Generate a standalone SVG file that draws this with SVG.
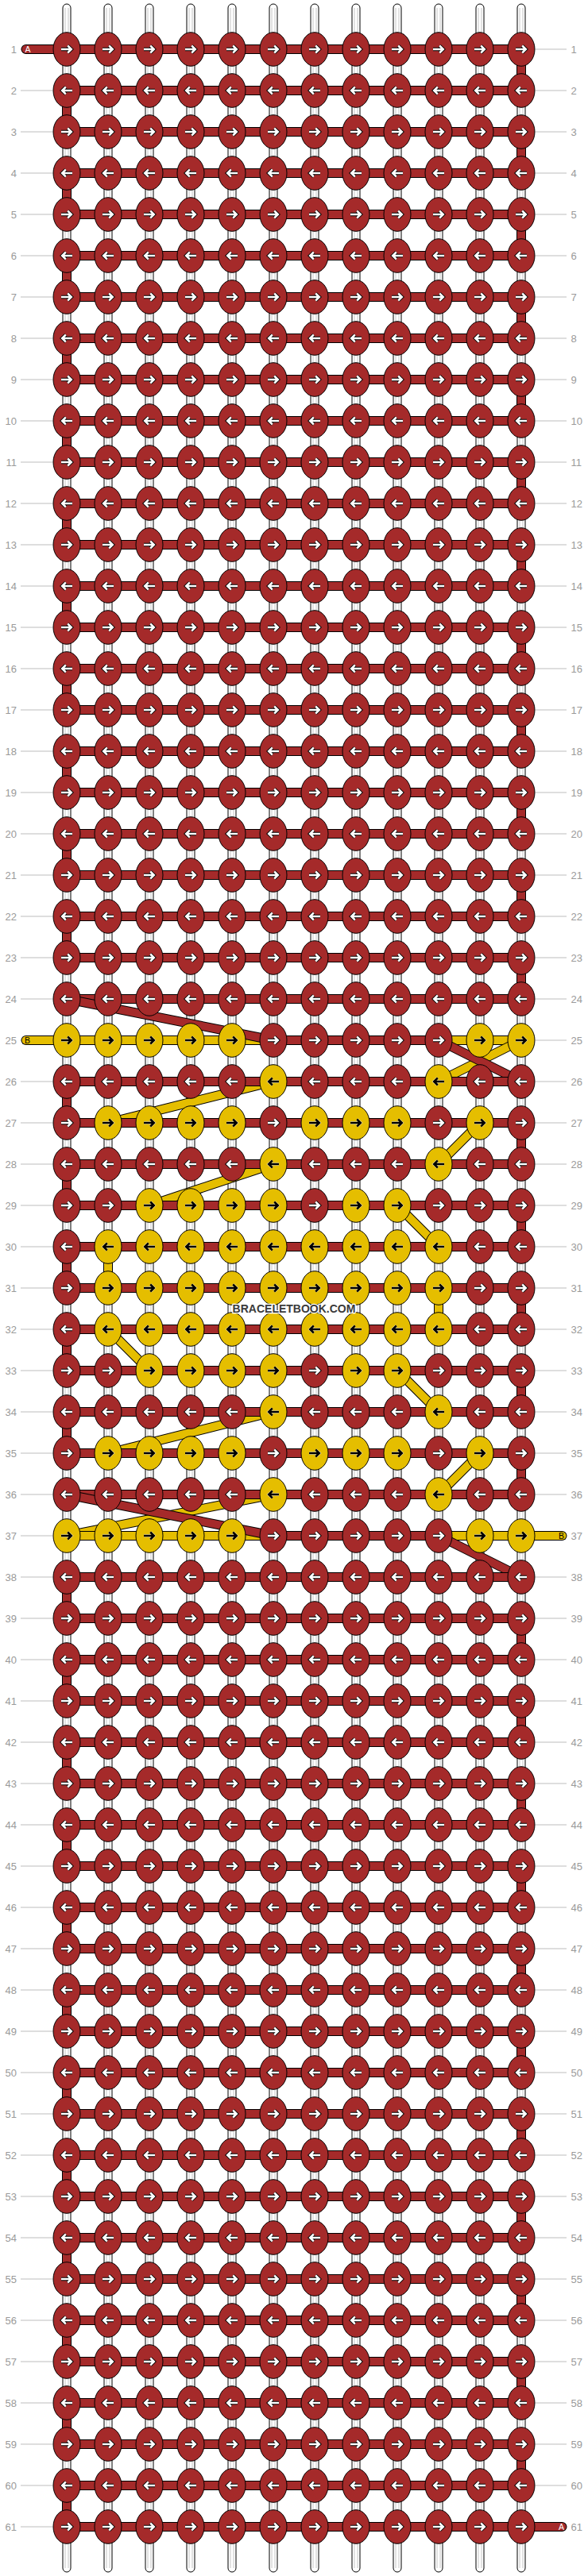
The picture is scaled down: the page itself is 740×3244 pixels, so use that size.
<svg xmlns="http://www.w3.org/2000/svg" xmlns:xlink="http://www.w3.org/1999/xlink" width="740" height="3244" viewBox="0 0 740 3244">
<style>
.st{fill:#fff;stroke:#000;stroke-width:1}
.sg{stroke:#c4c4c4;stroke-width:1}
.gl{fill:none;stroke:#bdbdbd;stroke-width:1}
.o{fill:none;stroke:#000;stroke-width:12;stroke-linecap:round;stroke-linejoin:round}
.a{fill:none;stroke:#A52A2A;stroke-width:10;stroke-linecap:round;stroke-linejoin:round}
.b{fill:none;stroke:#E5BE00;stroke-width:10;stroke-linecap:round;stroke-linejoin:round}
.ln{font-family:"Liberation Sans",Arial,sans-serif;font-size:13px;fill:#9a9a9a;text-anchor:end}
.rn{font-family:"Liberation Sans",Arial,sans-serif;font-size:13px;fill:#9a9a9a;text-anchor:start}
.tl{font-family:"Liberation Sans",Arial,sans-serif;font-size:10.5px;text-anchor:middle}
.wm{font-family:"Liberation Sans",Arial,sans-serif;font-size:14px;font-weight:bold;fill:#3a3a3a;stroke:#fff;stroke-width:2.5;stroke-linejoin:round;paint-order:stroke;text-anchor:middle}
</style>
<defs>
<path id="ar" d="M-7,0H5.5M1.2,-4.5L5.8,0L1.2,4.5" fill="none" stroke-linejoin="miter" stroke-miterlimit="10"/>
<g id="RR"><ellipse rx="17" ry="21.3" fill="#A52A2A" stroke="#000" stroke-width="1"/><use xlink:href="#ar" href="#ar" stroke="#000" stroke-width="4.4"/><use xlink:href="#ar" href="#ar" stroke="#fff" stroke-width="2.5"/></g>
<g id="RL"><ellipse rx="17" ry="21.3" fill="#A52A2A" stroke="#000" stroke-width="1"/><g transform="scale(-1,1)"><use xlink:href="#ar" href="#ar" stroke="#000" stroke-width="4.4"/><use xlink:href="#ar" href="#ar" stroke="#fff" stroke-width="2.5"/></g></g>
<g id="YR"><ellipse rx="17" ry="21.3" fill="#E5BE00" stroke="#000" stroke-width="1"/><use xlink:href="#ar" href="#ar" stroke="#fff" stroke-width="3.8" stroke-opacity="0.6"/><use xlink:href="#ar" href="#ar" stroke="#000" stroke-width="2.5"/></g>
<g id="YL"><ellipse rx="17" ry="21.3" fill="#E5BE00" stroke="#000" stroke-width="1"/><g transform="scale(-1,1)"><use xlink:href="#ar" href="#ar" stroke="#fff" stroke-width="3.8" stroke-opacity="0.6"/><use xlink:href="#ar" href="#ar" stroke="#000" stroke-width="2.5"/></g></g>
</defs>
<rect width="740" height="3244" fill="#fff"/>
<g id="row-labels">
<path class="gl" d="M26,62H66M674,62H713M26,114H66M674,114H713M26,166H66M674,166H713M26,218H66M674,218H713M26,270H66M674,270H713M26,322H66M674,322H713M26,374H66M674,374H713M26,426H66M674,426H713M26,478H66M674,478H713M26,530H66M674,530H713M26,582H66M674,582H713M26,634H66M674,634H713M26,686H66M674,686H713M26,738H66M674,738H713M26,790H66M674,790H713M26,842H66M674,842H713M26,894H66M674,894H713M26,946H66M674,946H713M26,998H66M674,998H713M26,1050H66M674,1050H713M26,1102H66M674,1102H713M26,1154H66M674,1154H713M26,1206H66M674,1206H713M26,1258H66M674,1258H713M26,1310H66M674,1310H713M26,1362H66M674,1362H713M26,1414H66M674,1414H713M26,1466H66M674,1466H713M26,1518H66M674,1518H713M26,1570H66M674,1570H713M26,1622H66M674,1622H713M26,1674H66M674,1674H713M26,1726H66M674,1726H713M26,1778H66M674,1778H713M26,1830H66M674,1830H713M26,1882H66M674,1882H713M26,1934H66M674,1934H713M26,1986H66M674,1986H713M26,2038H66M674,2038H713M26,2090H66M674,2090H713M26,2142H66M674,2142H713M26,2194H66M674,2194H713M26,2246H66M674,2246H713M26,2298H66M674,2298H713M26,2350H66M674,2350H713M26,2402H66M674,2402H713M26,2454H66M674,2454H713M26,2506H66M674,2506H713M26,2558H66M674,2558H713M26,2610H66M674,2610H713M26,2662H66M674,2662H713M26,2714H66M674,2714H713M26,2766H66M674,2766H713M26,2818H66M674,2818H713M26,2870H66M674,2870H713M26,2922H66M674,2922H713M26,2974H66M674,2974H713M26,3026H66M674,3026H713M26,3078H66M674,3078H713M26,3130H66M674,3130H713M26,3182H66M674,3182H713"/>
<text class="ln" x="21" y="66.5">1</text><text class="rn" x="718.5" y="66.5">1</text>
<text class="ln" x="21" y="118.5">2</text><text class="rn" x="718.5" y="118.5">2</text>
<text class="ln" x="21" y="170.5">3</text><text class="rn" x="718.5" y="170.5">3</text>
<text class="ln" x="21" y="222.5">4</text><text class="rn" x="718.5" y="222.5">4</text>
<text class="ln" x="21" y="274.5">5</text><text class="rn" x="718.5" y="274.5">5</text>
<text class="ln" x="21" y="326.5">6</text><text class="rn" x="718.5" y="326.5">6</text>
<text class="ln" x="21" y="378.5">7</text><text class="rn" x="718.5" y="378.5">7</text>
<text class="ln" x="21" y="430.5">8</text><text class="rn" x="718.5" y="430.5">8</text>
<text class="ln" x="21" y="482.5">9</text><text class="rn" x="718.5" y="482.5">9</text>
<text class="ln" x="21" y="534.5">10</text><text class="rn" x="718.5" y="534.5">10</text>
<text class="ln" x="21" y="586.5">11</text><text class="rn" x="718.5" y="586.5">11</text>
<text class="ln" x="21" y="638.5">12</text><text class="rn" x="718.5" y="638.5">12</text>
<text class="ln" x="21" y="690.5">13</text><text class="rn" x="718.5" y="690.5">13</text>
<text class="ln" x="21" y="742.5">14</text><text class="rn" x="718.5" y="742.5">14</text>
<text class="ln" x="21" y="794.5">15</text><text class="rn" x="718.5" y="794.5">15</text>
<text class="ln" x="21" y="846.5">16</text><text class="rn" x="718.5" y="846.5">16</text>
<text class="ln" x="21" y="898.5">17</text><text class="rn" x="718.5" y="898.5">17</text>
<text class="ln" x="21" y="950.5">18</text><text class="rn" x="718.5" y="950.5">18</text>
<text class="ln" x="21" y="1002.5">19</text><text class="rn" x="718.5" y="1002.5">19</text>
<text class="ln" x="21" y="1054.5">20</text><text class="rn" x="718.5" y="1054.5">20</text>
<text class="ln" x="21" y="1106.5">21</text><text class="rn" x="718.5" y="1106.5">21</text>
<text class="ln" x="21" y="1158.5">22</text><text class="rn" x="718.5" y="1158.5">22</text>
<text class="ln" x="21" y="1210.5">23</text><text class="rn" x="718.5" y="1210.5">23</text>
<text class="ln" x="21" y="1262.5">24</text><text class="rn" x="718.5" y="1262.5">24</text>
<text class="ln" x="21" y="1314.5">25</text><text class="rn" x="718.5" y="1314.5">25</text>
<text class="ln" x="21" y="1366.5">26</text><text class="rn" x="718.5" y="1366.5">26</text>
<text class="ln" x="21" y="1418.5">27</text><text class="rn" x="718.5" y="1418.5">27</text>
<text class="ln" x="21" y="1470.5">28</text><text class="rn" x="718.5" y="1470.5">28</text>
<text class="ln" x="21" y="1522.5">29</text><text class="rn" x="718.5" y="1522.5">29</text>
<text class="ln" x="21" y="1574.5">30</text><text class="rn" x="718.5" y="1574.5">30</text>
<text class="ln" x="21" y="1626.5">31</text><text class="rn" x="718.5" y="1626.5">31</text>
<text class="ln" x="21" y="1678.5">32</text><text class="rn" x="718.5" y="1678.5">32</text>
<text class="ln" x="21" y="1730.5">33</text><text class="rn" x="718.5" y="1730.5">33</text>
<text class="ln" x="21" y="1782.5">34</text><text class="rn" x="718.5" y="1782.5">34</text>
<text class="ln" x="21" y="1834.5">35</text><text class="rn" x="718.5" y="1834.5">35</text>
<text class="ln" x="21" y="1886.5">36</text><text class="rn" x="718.5" y="1886.5">36</text>
<text class="ln" x="21" y="1938.5">37</text><text class="rn" x="718.5" y="1938.5">37</text>
<text class="ln" x="21" y="1990.5">38</text><text class="rn" x="718.5" y="1990.5">38</text>
<text class="ln" x="21" y="2042.5">39</text><text class="rn" x="718.5" y="2042.5">39</text>
<text class="ln" x="21" y="2094.5">40</text><text class="rn" x="718.5" y="2094.5">40</text>
<text class="ln" x="21" y="2146.5">41</text><text class="rn" x="718.5" y="2146.5">41</text>
<text class="ln" x="21" y="2198.5">42</text><text class="rn" x="718.5" y="2198.5">42</text>
<text class="ln" x="21" y="2250.5">43</text><text class="rn" x="718.5" y="2250.5">43</text>
<text class="ln" x="21" y="2302.5">44</text><text class="rn" x="718.5" y="2302.5">44</text>
<text class="ln" x="21" y="2354.5">45</text><text class="rn" x="718.5" y="2354.5">45</text>
<text class="ln" x="21" y="2406.5">46</text><text class="rn" x="718.5" y="2406.5">46</text>
<text class="ln" x="21" y="2458.5">47</text><text class="rn" x="718.5" y="2458.5">47</text>
<text class="ln" x="21" y="2510.5">48</text><text class="rn" x="718.5" y="2510.5">48</text>
<text class="ln" x="21" y="2562.5">49</text><text class="rn" x="718.5" y="2562.5">49</text>
<text class="ln" x="21" y="2614.5">50</text><text class="rn" x="718.5" y="2614.5">50</text>
<text class="ln" x="21" y="2666.5">51</text><text class="rn" x="718.5" y="2666.5">51</text>
<text class="ln" x="21" y="2718.5">52</text><text class="rn" x="718.5" y="2718.5">52</text>
<text class="ln" x="21" y="2770.5">53</text><text class="rn" x="718.5" y="2770.5">53</text>
<text class="ln" x="21" y="2822.5">54</text><text class="rn" x="718.5" y="2822.5">54</text>
<text class="ln" x="21" y="2874.5">55</text><text class="rn" x="718.5" y="2874.5">55</text>
<text class="ln" x="21" y="2926.5">56</text><text class="rn" x="718.5" y="2926.5">56</text>
<text class="ln" x="21" y="2978.5">57</text><text class="rn" x="718.5" y="2978.5">57</text>
<text class="ln" x="21" y="3030.5">58</text><text class="rn" x="718.5" y="3030.5">58</text>
<text class="ln" x="21" y="3082.5">59</text><text class="rn" x="718.5" y="3082.5">59</text>
<text class="ln" x="21" y="3134.5">60</text><text class="rn" x="718.5" y="3134.5">60</text>
<text class="ln" x="21" y="3186.5">61</text><text class="rn" x="718.5" y="3186.5">61</text>
</g>
<g id="strands">
<rect class="st" x="79" y="5" width="10" height="3234" rx="5"/>
<rect class="st" x="131" y="5" width="10" height="3234" rx="5"/>
<rect class="st" x="183" y="5" width="10" height="3234" rx="5"/>
<rect class="st" x="235" y="5" width="10" height="3234" rx="5"/>
<rect class="st" x="287" y="5" width="10" height="3234" rx="5"/>
<rect class="st" x="339" y="5" width="10" height="3234" rx="5"/>
<rect class="st" x="391" y="5" width="10" height="3234" rx="5"/>
<rect class="st" x="443" y="5" width="10" height="3234" rx="5"/>
<rect class="st" x="495" y="5" width="10" height="3234" rx="5"/>
<rect class="st" x="547" y="5" width="10" height="3234" rx="5"/>
<rect class="st" x="599" y="5" width="10" height="3234" rx="5"/>
<rect class="st" x="651" y="5" width="10" height="3234" rx="5"/>
<path class="sg" d="M82,10V3234M86,10V3234M134,10V3234M138,10V3234M186,10V3234M190,10V3234M238,10V3234M242,10V3234M290,10V3234M294,10V3234M342,10V3234M346,10V3234M394,10V3234M398,10V3234M446,10V3234M450,10V3234M498,10V3234M502,10V3234M550,10V3234M554,10V3234M602,10V3234M606,10V3234M654,10V3234M658,10V3234"/>
</g>
<g id="connectors">
<g id="thread-B">
<path class="o" d="M32.5,1310H656"/><path class="b" d="M32.5,1310H656"/>
<path class="o" d="M656,1310L552,1362"/><path class="b" d="M656,1310L552,1362"/>
<path class="o" d="M552,1362H344"/><path class="b" d="M552,1362H344"/>
<path class="o" d="M344,1362L136,1414"/><path class="b" d="M344,1362L136,1414"/>
<path class="o" d="M136,1414H604"/><path class="b" d="M136,1414H604"/>
<path class="o" d="M604,1414L552,1466"/><path class="b" d="M604,1414L552,1466"/>
<path class="o" d="M552,1466H344"/><path class="b" d="M552,1466H344"/>
<path class="o" d="M344,1466L188,1518"/><path class="b" d="M344,1466L188,1518"/>
<path class="o" d="M188,1518H500"/><path class="b" d="M188,1518H500"/>
<path class="o" d="M500,1518L552,1570"/><path class="b" d="M500,1518L552,1570"/>
<path class="o" d="M552,1570H136V1622H552V1674H136"/><path class="b" d="M552,1570H136V1622H552V1674H136"/>
<path class="o" d="M136,1674L188,1726"/><path class="b" d="M136,1674L188,1726"/>
<path class="o" d="M188,1726H500"/><path class="b" d="M188,1726H500"/>
<path class="o" d="M500,1726L552,1778"/><path class="b" d="M500,1726L552,1778"/>
<path class="o" d="M552,1778H344"/><path class="b" d="M552,1778H344"/>
<path class="o" d="M344,1778L136,1830"/><path class="b" d="M344,1778L136,1830"/>
<path class="o" d="M136,1830H604"/><path class="b" d="M136,1830H604"/>
<path class="o" d="M604,1830L552,1882"/><path class="b" d="M604,1830L552,1882"/>
<path class="o" d="M552,1882H344"/><path class="b" d="M552,1882H344"/>
<path class="o" d="M344,1882L84,1934"/><path class="b" d="M344,1882L84,1934"/>
<path class="o" d="M84,1934H707.5"/><path class="b" d="M84,1934H707.5"/>
</g>
<g id="thread-A">
<path class="o" d="M32.5,62H656V114H84V166H656V218H84V270H656V322H84V374H656V426H84V478H656V530H84V582H656V634H84V686H656V738H84V790H656V842H84V894H656V946H84V998H656V1050H84V1102H656V1154H84V1206H656V1258H84"/>
<path class="a" d="M32.5,62H656V114H84V166H656V218H84V270H656V322H84V374H656V426H84V478H656V530H84V582H656V634H84V686H656V738H84V790H656V842H84V894H656V946H84V998H656V1050H84V1102H656V1154H84V1206H656V1258H84"/>
<path class="o" d="M84,1258L344,1310"/><path class="a" d="M84,1258L344,1310"/>
<path class="o" d="M344,1310H552"/><path class="a" d="M344,1310H552"/>
<path class="o" d="M552,1310L656,1362"/><path class="a" d="M552,1310L656,1362"/>
<path class="o" d="M656,1362H84V1414H656V1466H84V1518H656V1570H84V1622H656V1674H84V1726H656V1778H84V1830H656V1882H84"/>
<path class="a" d="M656,1362H84V1414H656V1466H84V1518H656V1570H84V1622H656V1674H84V1726H656V1778H84V1830H656V1882H84"/>
<path class="o" d="M84,1882L344,1934"/><path class="a" d="M84,1882L344,1934"/>
<path class="o" d="M344,1934H552"/><path class="a" d="M344,1934H552"/>
<path class="o" d="M552,1934L656,1986"/><path class="a" d="M552,1934L656,1986"/>
<path class="o" d="M656,1986H84V2038H656V2090H84V2142H656V2194H84V2246H656V2298H84V2350H656V2402H84V2454H656V2506H84V2558H656V2610H84V2662H656V2714H84V2766H656V2818H84V2870H656V2922H84V2974H656V3026H84V3078H656V3130H84V3182H707.5"/>
<path class="a" d="M656,1986H84V2038H656V2090H84V2142H656V2194H84V2246H656V2298H84V2350H656V2402H84V2454H656V2506H84V2558H656V2610H84V2662H656V2714H84V2766H656V2818H84V2870H656V2922H84V2974H656V3026H84V3078H656V3130H84V3182H707.5"/>
</g>
<text class="tl" x="35" y="66" fill="#fff">A</text>
<text class="tl" x="34.5" y="1314" fill="#000">B</text>
<text class="tl" x="706.5" y="1938" fill="#000">B</text>
<text class="tl" x="706.5" y="3186" fill="#fff">A</text>
</g>
<g id="nodes">
<g id="row1" transform="translate(0,62)"><g id="n1-1"><use href="#RR" x="84"/></g><g id="n1-2"><use href="#RR" x="136"/></g><g id="n1-3"><use href="#RR" x="188"/></g><g id="n1-4"><use href="#RR" x="240"/></g><g id="n1-5"><use href="#RR" x="292"/></g><g id="n1-6"><use href="#RR" x="344"/></g><g id="n1-7"><use href="#RR" x="396"/></g><g id="n1-8"><use href="#RR" x="448"/></g><g id="n1-9"><use href="#RR" x="500"/></g><g id="n1-10"><use href="#RR" x="552"/></g><g id="n1-11"><use href="#RR" x="604"/></g><g id="n1-12"><use href="#RR" x="656"/></g></g>
<g id="row2" transform="translate(0,114)"><g id="n2-1"><use href="#RL" x="84"/></g><g id="n2-2"><use href="#RL" x="136"/></g><g id="n2-3"><use href="#RL" x="188"/></g><g id="n2-4"><use href="#RL" x="240"/></g><g id="n2-5"><use href="#RL" x="292"/></g><g id="n2-6"><use href="#RL" x="344"/></g><g id="n2-7"><use href="#RL" x="396"/></g><g id="n2-8"><use href="#RL" x="448"/></g><g id="n2-9"><use href="#RL" x="500"/></g><g id="n2-10"><use href="#RL" x="552"/></g><g id="n2-11"><use href="#RL" x="604"/></g><g id="n2-12"><use href="#RL" x="656"/></g></g>
<g id="row3" transform="translate(0,166)"><g id="n3-1"><use href="#RR" x="84"/></g><g id="n3-2"><use href="#RR" x="136"/></g><g id="n3-3"><use href="#RR" x="188"/></g><g id="n3-4"><use href="#RR" x="240"/></g><g id="n3-5"><use href="#RR" x="292"/></g><g id="n3-6"><use href="#RR" x="344"/></g><g id="n3-7"><use href="#RR" x="396"/></g><g id="n3-8"><use href="#RR" x="448"/></g><g id="n3-9"><use href="#RR" x="500"/></g><g id="n3-10"><use href="#RR" x="552"/></g><g id="n3-11"><use href="#RR" x="604"/></g><g id="n3-12"><use href="#RR" x="656"/></g></g>
<g id="row4" transform="translate(0,218)"><g id="n4-1"><use href="#RL" x="84"/></g><g id="n4-2"><use href="#RL" x="136"/></g><g id="n4-3"><use href="#RL" x="188"/></g><g id="n4-4"><use href="#RL" x="240"/></g><g id="n4-5"><use href="#RL" x="292"/></g><g id="n4-6"><use href="#RL" x="344"/></g><g id="n4-7"><use href="#RL" x="396"/></g><g id="n4-8"><use href="#RL" x="448"/></g><g id="n4-9"><use href="#RL" x="500"/></g><g id="n4-10"><use href="#RL" x="552"/></g><g id="n4-11"><use href="#RL" x="604"/></g><g id="n4-12"><use href="#RL" x="656"/></g></g>
<g id="row5" transform="translate(0,270)"><g id="n5-1"><use href="#RR" x="84"/></g><g id="n5-2"><use href="#RR" x="136"/></g><g id="n5-3"><use href="#RR" x="188"/></g><g id="n5-4"><use href="#RR" x="240"/></g><g id="n5-5"><use href="#RR" x="292"/></g><g id="n5-6"><use href="#RR" x="344"/></g><g id="n5-7"><use href="#RR" x="396"/></g><g id="n5-8"><use href="#RR" x="448"/></g><g id="n5-9"><use href="#RR" x="500"/></g><g id="n5-10"><use href="#RR" x="552"/></g><g id="n5-11"><use href="#RR" x="604"/></g><g id="n5-12"><use href="#RR" x="656"/></g></g>
<g id="row6" transform="translate(0,322)"><g id="n6-1"><use href="#RL" x="84"/></g><g id="n6-2"><use href="#RL" x="136"/></g><g id="n6-3"><use href="#RL" x="188"/></g><g id="n6-4"><use href="#RL" x="240"/></g><g id="n6-5"><use href="#RL" x="292"/></g><g id="n6-6"><use href="#RL" x="344"/></g><g id="n6-7"><use href="#RL" x="396"/></g><g id="n6-8"><use href="#RL" x="448"/></g><g id="n6-9"><use href="#RL" x="500"/></g><g id="n6-10"><use href="#RL" x="552"/></g><g id="n6-11"><use href="#RL" x="604"/></g><g id="n6-12"><use href="#RL" x="656"/></g></g>
<g id="row7" transform="translate(0,374)"><g id="n7-1"><use href="#RR" x="84"/></g><g id="n7-2"><use href="#RR" x="136"/></g><g id="n7-3"><use href="#RR" x="188"/></g><g id="n7-4"><use href="#RR" x="240"/></g><g id="n7-5"><use href="#RR" x="292"/></g><g id="n7-6"><use href="#RR" x="344"/></g><g id="n7-7"><use href="#RR" x="396"/></g><g id="n7-8"><use href="#RR" x="448"/></g><g id="n7-9"><use href="#RR" x="500"/></g><g id="n7-10"><use href="#RR" x="552"/></g><g id="n7-11"><use href="#RR" x="604"/></g><g id="n7-12"><use href="#RR" x="656"/></g></g>
<g id="row8" transform="translate(0,426)"><g id="n8-1"><use href="#RL" x="84"/></g><g id="n8-2"><use href="#RL" x="136"/></g><g id="n8-3"><use href="#RL" x="188"/></g><g id="n8-4"><use href="#RL" x="240"/></g><g id="n8-5"><use href="#RL" x="292"/></g><g id="n8-6"><use href="#RL" x="344"/></g><g id="n8-7"><use href="#RL" x="396"/></g><g id="n8-8"><use href="#RL" x="448"/></g><g id="n8-9"><use href="#RL" x="500"/></g><g id="n8-10"><use href="#RL" x="552"/></g><g id="n8-11"><use href="#RL" x="604"/></g><g id="n8-12"><use href="#RL" x="656"/></g></g>
<g id="row9" transform="translate(0,478)"><g id="n9-1"><use href="#RR" x="84"/></g><g id="n9-2"><use href="#RR" x="136"/></g><g id="n9-3"><use href="#RR" x="188"/></g><g id="n9-4"><use href="#RR" x="240"/></g><g id="n9-5"><use href="#RR" x="292"/></g><g id="n9-6"><use href="#RR" x="344"/></g><g id="n9-7"><use href="#RR" x="396"/></g><g id="n9-8"><use href="#RR" x="448"/></g><g id="n9-9"><use href="#RR" x="500"/></g><g id="n9-10"><use href="#RR" x="552"/></g><g id="n9-11"><use href="#RR" x="604"/></g><g id="n9-12"><use href="#RR" x="656"/></g></g>
<g id="row10" transform="translate(0,530)"><g id="n10-1"><use href="#RL" x="84"/></g><g id="n10-2"><use href="#RL" x="136"/></g><g id="n10-3"><use href="#RL" x="188"/></g><g id="n10-4"><use href="#RL" x="240"/></g><g id="n10-5"><use href="#RL" x="292"/></g><g id="n10-6"><use href="#RL" x="344"/></g><g id="n10-7"><use href="#RL" x="396"/></g><g id="n10-8"><use href="#RL" x="448"/></g><g id="n10-9"><use href="#RL" x="500"/></g><g id="n10-10"><use href="#RL" x="552"/></g><g id="n10-11"><use href="#RL" x="604"/></g><g id="n10-12"><use href="#RL" x="656"/></g></g>
<g id="row11" transform="translate(0,582)"><g id="n11-1"><use href="#RR" x="84"/></g><g id="n11-2"><use href="#RR" x="136"/></g><g id="n11-3"><use href="#RR" x="188"/></g><g id="n11-4"><use href="#RR" x="240"/></g><g id="n11-5"><use href="#RR" x="292"/></g><g id="n11-6"><use href="#RR" x="344"/></g><g id="n11-7"><use href="#RR" x="396"/></g><g id="n11-8"><use href="#RR" x="448"/></g><g id="n11-9"><use href="#RR" x="500"/></g><g id="n11-10"><use href="#RR" x="552"/></g><g id="n11-11"><use href="#RR" x="604"/></g><g id="n11-12"><use href="#RR" x="656"/></g></g>
<g id="row12" transform="translate(0,634)"><g id="n12-1"><use href="#RL" x="84"/></g><g id="n12-2"><use href="#RL" x="136"/></g><g id="n12-3"><use href="#RL" x="188"/></g><g id="n12-4"><use href="#RL" x="240"/></g><g id="n12-5"><use href="#RL" x="292"/></g><g id="n12-6"><use href="#RL" x="344"/></g><g id="n12-7"><use href="#RL" x="396"/></g><g id="n12-8"><use href="#RL" x="448"/></g><g id="n12-9"><use href="#RL" x="500"/></g><g id="n12-10"><use href="#RL" x="552"/></g><g id="n12-11"><use href="#RL" x="604"/></g><g id="n12-12"><use href="#RL" x="656"/></g></g>
<g id="row13" transform="translate(0,686)"><g id="n13-1"><use href="#RR" x="84"/></g><g id="n13-2"><use href="#RR" x="136"/></g><g id="n13-3"><use href="#RR" x="188"/></g><g id="n13-4"><use href="#RR" x="240"/></g><g id="n13-5"><use href="#RR" x="292"/></g><g id="n13-6"><use href="#RR" x="344"/></g><g id="n13-7"><use href="#RR" x="396"/></g><g id="n13-8"><use href="#RR" x="448"/></g><g id="n13-9"><use href="#RR" x="500"/></g><g id="n13-10"><use href="#RR" x="552"/></g><g id="n13-11"><use href="#RR" x="604"/></g><g id="n13-12"><use href="#RR" x="656"/></g></g>
<g id="row14" transform="translate(0,738)"><g id="n14-1"><use href="#RL" x="84"/></g><g id="n14-2"><use href="#RL" x="136"/></g><g id="n14-3"><use href="#RL" x="188"/></g><g id="n14-4"><use href="#RL" x="240"/></g><g id="n14-5"><use href="#RL" x="292"/></g><g id="n14-6"><use href="#RL" x="344"/></g><g id="n14-7"><use href="#RL" x="396"/></g><g id="n14-8"><use href="#RL" x="448"/></g><g id="n14-9"><use href="#RL" x="500"/></g><g id="n14-10"><use href="#RL" x="552"/></g><g id="n14-11"><use href="#RL" x="604"/></g><g id="n14-12"><use href="#RL" x="656"/></g></g>
<g id="row15" transform="translate(0,790)"><g id="n15-1"><use href="#RR" x="84"/></g><g id="n15-2"><use href="#RR" x="136"/></g><g id="n15-3"><use href="#RR" x="188"/></g><g id="n15-4"><use href="#RR" x="240"/></g><g id="n15-5"><use href="#RR" x="292"/></g><g id="n15-6"><use href="#RR" x="344"/></g><g id="n15-7"><use href="#RR" x="396"/></g><g id="n15-8"><use href="#RR" x="448"/></g><g id="n15-9"><use href="#RR" x="500"/></g><g id="n15-10"><use href="#RR" x="552"/></g><g id="n15-11"><use href="#RR" x="604"/></g><g id="n15-12"><use href="#RR" x="656"/></g></g>
<g id="row16" transform="translate(0,842)"><g id="n16-1"><use href="#RL" x="84"/></g><g id="n16-2"><use href="#RL" x="136"/></g><g id="n16-3"><use href="#RL" x="188"/></g><g id="n16-4"><use href="#RL" x="240"/></g><g id="n16-5"><use href="#RL" x="292"/></g><g id="n16-6"><use href="#RL" x="344"/></g><g id="n16-7"><use href="#RL" x="396"/></g><g id="n16-8"><use href="#RL" x="448"/></g><g id="n16-9"><use href="#RL" x="500"/></g><g id="n16-10"><use href="#RL" x="552"/></g><g id="n16-11"><use href="#RL" x="604"/></g><g id="n16-12"><use href="#RL" x="656"/></g></g>
<g id="row17" transform="translate(0,894)"><g id="n17-1"><use href="#RR" x="84"/></g><g id="n17-2"><use href="#RR" x="136"/></g><g id="n17-3"><use href="#RR" x="188"/></g><g id="n17-4"><use href="#RR" x="240"/></g><g id="n17-5"><use href="#RR" x="292"/></g><g id="n17-6"><use href="#RR" x="344"/></g><g id="n17-7"><use href="#RR" x="396"/></g><g id="n17-8"><use href="#RR" x="448"/></g><g id="n17-9"><use href="#RR" x="500"/></g><g id="n17-10"><use href="#RR" x="552"/></g><g id="n17-11"><use href="#RR" x="604"/></g><g id="n17-12"><use href="#RR" x="656"/></g></g>
<g id="row18" transform="translate(0,946)"><g id="n18-1"><use href="#RL" x="84"/></g><g id="n18-2"><use href="#RL" x="136"/></g><g id="n18-3"><use href="#RL" x="188"/></g><g id="n18-4"><use href="#RL" x="240"/></g><g id="n18-5"><use href="#RL" x="292"/></g><g id="n18-6"><use href="#RL" x="344"/></g><g id="n18-7"><use href="#RL" x="396"/></g><g id="n18-8"><use href="#RL" x="448"/></g><g id="n18-9"><use href="#RL" x="500"/></g><g id="n18-10"><use href="#RL" x="552"/></g><g id="n18-11"><use href="#RL" x="604"/></g><g id="n18-12"><use href="#RL" x="656"/></g></g>
<g id="row19" transform="translate(0,998)"><g id="n19-1"><use href="#RR" x="84"/></g><g id="n19-2"><use href="#RR" x="136"/></g><g id="n19-3"><use href="#RR" x="188"/></g><g id="n19-4"><use href="#RR" x="240"/></g><g id="n19-5"><use href="#RR" x="292"/></g><g id="n19-6"><use href="#RR" x="344"/></g><g id="n19-7"><use href="#RR" x="396"/></g><g id="n19-8"><use href="#RR" x="448"/></g><g id="n19-9"><use href="#RR" x="500"/></g><g id="n19-10"><use href="#RR" x="552"/></g><g id="n19-11"><use href="#RR" x="604"/></g><g id="n19-12"><use href="#RR" x="656"/></g></g>
<g id="row20" transform="translate(0,1050)"><g id="n20-1"><use href="#RL" x="84"/></g><g id="n20-2"><use href="#RL" x="136"/></g><g id="n20-3"><use href="#RL" x="188"/></g><g id="n20-4"><use href="#RL" x="240"/></g><g id="n20-5"><use href="#RL" x="292"/></g><g id="n20-6"><use href="#RL" x="344"/></g><g id="n20-7"><use href="#RL" x="396"/></g><g id="n20-8"><use href="#RL" x="448"/></g><g id="n20-9"><use href="#RL" x="500"/></g><g id="n20-10"><use href="#RL" x="552"/></g><g id="n20-11"><use href="#RL" x="604"/></g><g id="n20-12"><use href="#RL" x="656"/></g></g>
<g id="row21" transform="translate(0,1102)"><g id="n21-1"><use href="#RR" x="84"/></g><g id="n21-2"><use href="#RR" x="136"/></g><g id="n21-3"><use href="#RR" x="188"/></g><g id="n21-4"><use href="#RR" x="240"/></g><g id="n21-5"><use href="#RR" x="292"/></g><g id="n21-6"><use href="#RR" x="344"/></g><g id="n21-7"><use href="#RR" x="396"/></g><g id="n21-8"><use href="#RR" x="448"/></g><g id="n21-9"><use href="#RR" x="500"/></g><g id="n21-10"><use href="#RR" x="552"/></g><g id="n21-11"><use href="#RR" x="604"/></g><g id="n21-12"><use href="#RR" x="656"/></g></g>
<g id="row22" transform="translate(0,1154)"><g id="n22-1"><use href="#RL" x="84"/></g><g id="n22-2"><use href="#RL" x="136"/></g><g id="n22-3"><use href="#RL" x="188"/></g><g id="n22-4"><use href="#RL" x="240"/></g><g id="n22-5"><use href="#RL" x="292"/></g><g id="n22-6"><use href="#RL" x="344"/></g><g id="n22-7"><use href="#RL" x="396"/></g><g id="n22-8"><use href="#RL" x="448"/></g><g id="n22-9"><use href="#RL" x="500"/></g><g id="n22-10"><use href="#RL" x="552"/></g><g id="n22-11"><use href="#RL" x="604"/></g><g id="n22-12"><use href="#RL" x="656"/></g></g>
<g id="row23" transform="translate(0,1206)"><g id="n23-1"><use href="#RR" x="84"/></g><g id="n23-2"><use href="#RR" x="136"/></g><g id="n23-3"><use href="#RR" x="188"/></g><g id="n23-4"><use href="#RR" x="240"/></g><g id="n23-5"><use href="#RR" x="292"/></g><g id="n23-6"><use href="#RR" x="344"/></g><g id="n23-7"><use href="#RR" x="396"/></g><g id="n23-8"><use href="#RR" x="448"/></g><g id="n23-9"><use href="#RR" x="500"/></g><g id="n23-10"><use href="#RR" x="552"/></g><g id="n23-11"><use href="#RR" x="604"/></g><g id="n23-12"><use href="#RR" x="656"/></g></g>
<g id="row24" transform="translate(0,1258)"><g id="n24-1"><use href="#RL" x="84"/></g><g id="n24-2"><use href="#RL" x="136"/></g><g id="n24-3"><use href="#RL" x="188"/></g><g id="n24-4"><use href="#RL" x="240"/></g><g id="n24-5"><use href="#RL" x="292"/></g><g id="n24-6"><use href="#RL" x="344"/></g><g id="n24-7"><use href="#RL" x="396"/></g><g id="n24-8"><use href="#RL" x="448"/></g><g id="n24-9"><use href="#RL" x="500"/></g><g id="n24-10"><use href="#RL" x="552"/></g><g id="n24-11"><use href="#RL" x="604"/></g><g id="n24-12"><use href="#RL" x="656"/></g></g>
<g id="row25" transform="translate(0,1310)"><g id="n25-1"><use href="#YR" x="84"/></g><g id="n25-2"><use href="#YR" x="136"/></g><g id="n25-3"><use href="#YR" x="188"/></g><g id="n25-4"><use href="#YR" x="240"/></g><g id="n25-5"><use href="#YR" x="292"/></g><g id="n25-6"><use href="#RR" x="344"/></g><g id="n25-7"><use href="#RR" x="396"/></g><g id="n25-8"><use href="#RR" x="448"/></g><g id="n25-9"><use href="#RR" x="500"/></g><g id="n25-10"><use href="#RR" x="552"/></g><g id="n25-11"><use href="#YR" x="604"/></g><g id="n25-12"><use href="#YR" x="656"/></g></g>
<g id="row26" transform="translate(0,1362)"><g id="n26-1"><use href="#RL" x="84"/></g><g id="n26-2"><use href="#RL" x="136"/></g><g id="n26-3"><use href="#RL" x="188"/></g><g id="n26-4"><use href="#RL" x="240"/></g><g id="n26-5"><use href="#RL" x="292"/></g><g id="n26-6"><use href="#YL" x="344"/></g><g id="n26-7"><use href="#RL" x="396"/></g><g id="n26-8"><use href="#RL" x="448"/></g><g id="n26-9"><use href="#RL" x="500"/></g><g id="n26-10"><use href="#YL" x="552"/></g><g id="n26-11"><use href="#RL" x="604"/></g><g id="n26-12"><use href="#RL" x="656"/></g></g>
<g id="row27" transform="translate(0,1414)"><g id="n27-1"><use href="#RR" x="84"/></g><g id="n27-2"><use href="#YR" x="136"/></g><g id="n27-3"><use href="#YR" x="188"/></g><g id="n27-4"><use href="#YR" x="240"/></g><g id="n27-5"><use href="#YR" x="292"/></g><g id="n27-6"><use href="#RR" x="344"/></g><g id="n27-7"><use href="#YR" x="396"/></g><g id="n27-8"><use href="#YR" x="448"/></g><g id="n27-9"><use href="#YR" x="500"/></g><g id="n27-10"><use href="#RR" x="552"/></g><g id="n27-11"><use href="#YR" x="604"/></g><g id="n27-12"><use href="#RR" x="656"/></g></g>
<g id="row28" transform="translate(0,1466)"><g id="n28-1"><use href="#RL" x="84"/></g><g id="n28-2"><use href="#RL" x="136"/></g><g id="n28-3"><use href="#RL" x="188"/></g><g id="n28-4"><use href="#RL" x="240"/></g><g id="n28-5"><use href="#RL" x="292"/></g><g id="n28-6"><use href="#YL" x="344"/></g><g id="n28-7"><use href="#RL" x="396"/></g><g id="n28-8"><use href="#RL" x="448"/></g><g id="n28-9"><use href="#RL" x="500"/></g><g id="n28-10"><use href="#YL" x="552"/></g><g id="n28-11"><use href="#RL" x="604"/></g><g id="n28-12"><use href="#RL" x="656"/></g></g>
<g id="row29" transform="translate(0,1518)"><g id="n29-1"><use href="#RR" x="84"/></g><g id="n29-2"><use href="#RR" x="136"/></g><g id="n29-3"><use href="#YR" x="188"/></g><g id="n29-4"><use href="#YR" x="240"/></g><g id="n29-5"><use href="#YR" x="292"/></g><g id="n29-6"><use href="#YR" x="344"/></g><g id="n29-7"><use href="#RR" x="396"/></g><g id="n29-8"><use href="#YR" x="448"/></g><g id="n29-9"><use href="#YR" x="500"/></g><g id="n29-10"><use href="#RR" x="552"/></g><g id="n29-11"><use href="#RR" x="604"/></g><g id="n29-12"><use href="#RR" x="656"/></g></g>
<g id="row30" transform="translate(0,1570)"><g id="n30-1"><use href="#RL" x="84"/></g><g id="n30-2"><use href="#YL" x="136"/></g><g id="n30-3"><use href="#YL" x="188"/></g><g id="n30-4"><use href="#YL" x="240"/></g><g id="n30-5"><use href="#YL" x="292"/></g><g id="n30-6"><use href="#YL" x="344"/></g><g id="n30-7"><use href="#YL" x="396"/></g><g id="n30-8"><use href="#YL" x="448"/></g><g id="n30-9"><use href="#YL" x="500"/></g><g id="n30-10"><use href="#YL" x="552"/></g><g id="n30-11"><use href="#RL" x="604"/></g><g id="n30-12"><use href="#RL" x="656"/></g></g>
<g id="row31" transform="translate(0,1622)"><g id="n31-1"><use href="#RR" x="84"/></g><g id="n31-2"><use href="#YR" x="136"/></g><g id="n31-3"><use href="#YR" x="188"/></g><g id="n31-4"><use href="#YR" x="240"/></g><g id="n31-5"><use href="#YR" x="292"/></g><g id="n31-6"><use href="#YR" x="344"/></g><g id="n31-7"><use href="#YR" x="396"/></g><g id="n31-8"><use href="#YR" x="448"/></g><g id="n31-9"><use href="#YR" x="500"/></g><g id="n31-10"><use href="#YR" x="552"/></g><g id="n31-11"><use href="#RR" x="604"/></g><g id="n31-12"><use href="#RR" x="656"/></g></g>
<g id="row32" transform="translate(0,1674)"><g id="n32-1"><use href="#RL" x="84"/></g><g id="n32-2"><use href="#YL" x="136"/></g><g id="n32-3"><use href="#YL" x="188"/></g><g id="n32-4"><use href="#YL" x="240"/></g><g id="n32-5"><use href="#YL" x="292"/></g><g id="n32-6"><use href="#YL" x="344"/></g><g id="n32-7"><use href="#YL" x="396"/></g><g id="n32-8"><use href="#YL" x="448"/></g><g id="n32-9"><use href="#YL" x="500"/></g><g id="n32-10"><use href="#YL" x="552"/></g><g id="n32-11"><use href="#RL" x="604"/></g><g id="n32-12"><use href="#RL" x="656"/></g></g>
<g id="row33" transform="translate(0,1726)"><g id="n33-1"><use href="#RR" x="84"/></g><g id="n33-2"><use href="#RR" x="136"/></g><g id="n33-3"><use href="#YR" x="188"/></g><g id="n33-4"><use href="#YR" x="240"/></g><g id="n33-5"><use href="#YR" x="292"/></g><g id="n33-6"><use href="#YR" x="344"/></g><g id="n33-7"><use href="#RR" x="396"/></g><g id="n33-8"><use href="#YR" x="448"/></g><g id="n33-9"><use href="#YR" x="500"/></g><g id="n33-10"><use href="#RR" x="552"/></g><g id="n33-11"><use href="#RR" x="604"/></g><g id="n33-12"><use href="#RR" x="656"/></g></g>
<g id="row34" transform="translate(0,1778)"><g id="n34-1"><use href="#RL" x="84"/></g><g id="n34-2"><use href="#RL" x="136"/></g><g id="n34-3"><use href="#RL" x="188"/></g><g id="n34-4"><use href="#RL" x="240"/></g><g id="n34-5"><use href="#RL" x="292"/></g><g id="n34-6"><use href="#YL" x="344"/></g><g id="n34-7"><use href="#RL" x="396"/></g><g id="n34-8"><use href="#RL" x="448"/></g><g id="n34-9"><use href="#RL" x="500"/></g><g id="n34-10"><use href="#YL" x="552"/></g><g id="n34-11"><use href="#RL" x="604"/></g><g id="n34-12"><use href="#RL" x="656"/></g></g>
<g id="row35" transform="translate(0,1830)"><g id="n35-1"><use href="#RR" x="84"/></g><g id="n35-2"><use href="#YR" x="136"/></g><g id="n35-3"><use href="#YR" x="188"/></g><g id="n35-4"><use href="#YR" x="240"/></g><g id="n35-5"><use href="#YR" x="292"/></g><g id="n35-6"><use href="#RR" x="344"/></g><g id="n35-7"><use href="#YR" x="396"/></g><g id="n35-8"><use href="#YR" x="448"/></g><g id="n35-9"><use href="#YR" x="500"/></g><g id="n35-10"><use href="#RR" x="552"/></g><g id="n35-11"><use href="#YR" x="604"/></g><g id="n35-12"><use href="#RR" x="656"/></g></g>
<g id="row36" transform="translate(0,1882)"><g id="n36-1"><use href="#RL" x="84"/></g><g id="n36-2"><use href="#RL" x="136"/></g><g id="n36-3"><use href="#RL" x="188"/></g><g id="n36-4"><use href="#RL" x="240"/></g><g id="n36-5"><use href="#RL" x="292"/></g><g id="n36-6"><use href="#YL" x="344"/></g><g id="n36-7"><use href="#RL" x="396"/></g><g id="n36-8"><use href="#RL" x="448"/></g><g id="n36-9"><use href="#RL" x="500"/></g><g id="n36-10"><use href="#YL" x="552"/></g><g id="n36-11"><use href="#RL" x="604"/></g><g id="n36-12"><use href="#RL" x="656"/></g></g>
<g id="row37" transform="translate(0,1934)"><g id="n37-1"><use href="#YR" x="84"/></g><g id="n37-2"><use href="#YR" x="136"/></g><g id="n37-3"><use href="#YR" x="188"/></g><g id="n37-4"><use href="#YR" x="240"/></g><g id="n37-5"><use href="#YR" x="292"/></g><g id="n37-6"><use href="#RR" x="344"/></g><g id="n37-7"><use href="#RR" x="396"/></g><g id="n37-8"><use href="#RR" x="448"/></g><g id="n37-9"><use href="#RR" x="500"/></g><g id="n37-10"><use href="#RR" x="552"/></g><g id="n37-11"><use href="#YR" x="604"/></g><g id="n37-12"><use href="#YR" x="656"/></g></g>
<g id="row38" transform="translate(0,1986)"><g id="n38-1"><use href="#RL" x="84"/></g><g id="n38-2"><use href="#RL" x="136"/></g><g id="n38-3"><use href="#RL" x="188"/></g><g id="n38-4"><use href="#RL" x="240"/></g><g id="n38-5"><use href="#RL" x="292"/></g><g id="n38-6"><use href="#RL" x="344"/></g><g id="n38-7"><use href="#RL" x="396"/></g><g id="n38-8"><use href="#RL" x="448"/></g><g id="n38-9"><use href="#RL" x="500"/></g><g id="n38-10"><use href="#RL" x="552"/></g><g id="n38-11"><use href="#RL" x="604"/></g><g id="n38-12"><use href="#RL" x="656"/></g></g>
<g id="row39" transform="translate(0,2038)"><g id="n39-1"><use href="#RR" x="84"/></g><g id="n39-2"><use href="#RR" x="136"/></g><g id="n39-3"><use href="#RR" x="188"/></g><g id="n39-4"><use href="#RR" x="240"/></g><g id="n39-5"><use href="#RR" x="292"/></g><g id="n39-6"><use href="#RR" x="344"/></g><g id="n39-7"><use href="#RR" x="396"/></g><g id="n39-8"><use href="#RR" x="448"/></g><g id="n39-9"><use href="#RR" x="500"/></g><g id="n39-10"><use href="#RR" x="552"/></g><g id="n39-11"><use href="#RR" x="604"/></g><g id="n39-12"><use href="#RR" x="656"/></g></g>
<g id="row40" transform="translate(0,2090)"><g id="n40-1"><use href="#RL" x="84"/></g><g id="n40-2"><use href="#RL" x="136"/></g><g id="n40-3"><use href="#RL" x="188"/></g><g id="n40-4"><use href="#RL" x="240"/></g><g id="n40-5"><use href="#RL" x="292"/></g><g id="n40-6"><use href="#RL" x="344"/></g><g id="n40-7"><use href="#RL" x="396"/></g><g id="n40-8"><use href="#RL" x="448"/></g><g id="n40-9"><use href="#RL" x="500"/></g><g id="n40-10"><use href="#RL" x="552"/></g><g id="n40-11"><use href="#RL" x="604"/></g><g id="n40-12"><use href="#RL" x="656"/></g></g>
<g id="row41" transform="translate(0,2142)"><g id="n41-1"><use href="#RR" x="84"/></g><g id="n41-2"><use href="#RR" x="136"/></g><g id="n41-3"><use href="#RR" x="188"/></g><g id="n41-4"><use href="#RR" x="240"/></g><g id="n41-5"><use href="#RR" x="292"/></g><g id="n41-6"><use href="#RR" x="344"/></g><g id="n41-7"><use href="#RR" x="396"/></g><g id="n41-8"><use href="#RR" x="448"/></g><g id="n41-9"><use href="#RR" x="500"/></g><g id="n41-10"><use href="#RR" x="552"/></g><g id="n41-11"><use href="#RR" x="604"/></g><g id="n41-12"><use href="#RR" x="656"/></g></g>
<g id="row42" transform="translate(0,2194)"><g id="n42-1"><use href="#RL" x="84"/></g><g id="n42-2"><use href="#RL" x="136"/></g><g id="n42-3"><use href="#RL" x="188"/></g><g id="n42-4"><use href="#RL" x="240"/></g><g id="n42-5"><use href="#RL" x="292"/></g><g id="n42-6"><use href="#RL" x="344"/></g><g id="n42-7"><use href="#RL" x="396"/></g><g id="n42-8"><use href="#RL" x="448"/></g><g id="n42-9"><use href="#RL" x="500"/></g><g id="n42-10"><use href="#RL" x="552"/></g><g id="n42-11"><use href="#RL" x="604"/></g><g id="n42-12"><use href="#RL" x="656"/></g></g>
<g id="row43" transform="translate(0,2246)"><g id="n43-1"><use href="#RR" x="84"/></g><g id="n43-2"><use href="#RR" x="136"/></g><g id="n43-3"><use href="#RR" x="188"/></g><g id="n43-4"><use href="#RR" x="240"/></g><g id="n43-5"><use href="#RR" x="292"/></g><g id="n43-6"><use href="#RR" x="344"/></g><g id="n43-7"><use href="#RR" x="396"/></g><g id="n43-8"><use href="#RR" x="448"/></g><g id="n43-9"><use href="#RR" x="500"/></g><g id="n43-10"><use href="#RR" x="552"/></g><g id="n43-11"><use href="#RR" x="604"/></g><g id="n43-12"><use href="#RR" x="656"/></g></g>
<g id="row44" transform="translate(0,2298)"><g id="n44-1"><use href="#RL" x="84"/></g><g id="n44-2"><use href="#RL" x="136"/></g><g id="n44-3"><use href="#RL" x="188"/></g><g id="n44-4"><use href="#RL" x="240"/></g><g id="n44-5"><use href="#RL" x="292"/></g><g id="n44-6"><use href="#RL" x="344"/></g><g id="n44-7"><use href="#RL" x="396"/></g><g id="n44-8"><use href="#RL" x="448"/></g><g id="n44-9"><use href="#RL" x="500"/></g><g id="n44-10"><use href="#RL" x="552"/></g><g id="n44-11"><use href="#RL" x="604"/></g><g id="n44-12"><use href="#RL" x="656"/></g></g>
<g id="row45" transform="translate(0,2350)"><g id="n45-1"><use href="#RR" x="84"/></g><g id="n45-2"><use href="#RR" x="136"/></g><g id="n45-3"><use href="#RR" x="188"/></g><g id="n45-4"><use href="#RR" x="240"/></g><g id="n45-5"><use href="#RR" x="292"/></g><g id="n45-6"><use href="#RR" x="344"/></g><g id="n45-7"><use href="#RR" x="396"/></g><g id="n45-8"><use href="#RR" x="448"/></g><g id="n45-9"><use href="#RR" x="500"/></g><g id="n45-10"><use href="#RR" x="552"/></g><g id="n45-11"><use href="#RR" x="604"/></g><g id="n45-12"><use href="#RR" x="656"/></g></g>
<g id="row46" transform="translate(0,2402)"><g id="n46-1"><use href="#RL" x="84"/></g><g id="n46-2"><use href="#RL" x="136"/></g><g id="n46-3"><use href="#RL" x="188"/></g><g id="n46-4"><use href="#RL" x="240"/></g><g id="n46-5"><use href="#RL" x="292"/></g><g id="n46-6"><use href="#RL" x="344"/></g><g id="n46-7"><use href="#RL" x="396"/></g><g id="n46-8"><use href="#RL" x="448"/></g><g id="n46-9"><use href="#RL" x="500"/></g><g id="n46-10"><use href="#RL" x="552"/></g><g id="n46-11"><use href="#RL" x="604"/></g><g id="n46-12"><use href="#RL" x="656"/></g></g>
<g id="row47" transform="translate(0,2454)"><g id="n47-1"><use href="#RR" x="84"/></g><g id="n47-2"><use href="#RR" x="136"/></g><g id="n47-3"><use href="#RR" x="188"/></g><g id="n47-4"><use href="#RR" x="240"/></g><g id="n47-5"><use href="#RR" x="292"/></g><g id="n47-6"><use href="#RR" x="344"/></g><g id="n47-7"><use href="#RR" x="396"/></g><g id="n47-8"><use href="#RR" x="448"/></g><g id="n47-9"><use href="#RR" x="500"/></g><g id="n47-10"><use href="#RR" x="552"/></g><g id="n47-11"><use href="#RR" x="604"/></g><g id="n47-12"><use href="#RR" x="656"/></g></g>
<g id="row48" transform="translate(0,2506)"><g id="n48-1"><use href="#RL" x="84"/></g><g id="n48-2"><use href="#RL" x="136"/></g><g id="n48-3"><use href="#RL" x="188"/></g><g id="n48-4"><use href="#RL" x="240"/></g><g id="n48-5"><use href="#RL" x="292"/></g><g id="n48-6"><use href="#RL" x="344"/></g><g id="n48-7"><use href="#RL" x="396"/></g><g id="n48-8"><use href="#RL" x="448"/></g><g id="n48-9"><use href="#RL" x="500"/></g><g id="n48-10"><use href="#RL" x="552"/></g><g id="n48-11"><use href="#RL" x="604"/></g><g id="n48-12"><use href="#RL" x="656"/></g></g>
<g id="row49" transform="translate(0,2558)"><g id="n49-1"><use href="#RR" x="84"/></g><g id="n49-2"><use href="#RR" x="136"/></g><g id="n49-3"><use href="#RR" x="188"/></g><g id="n49-4"><use href="#RR" x="240"/></g><g id="n49-5"><use href="#RR" x="292"/></g><g id="n49-6"><use href="#RR" x="344"/></g><g id="n49-7"><use href="#RR" x="396"/></g><g id="n49-8"><use href="#RR" x="448"/></g><g id="n49-9"><use href="#RR" x="500"/></g><g id="n49-10"><use href="#RR" x="552"/></g><g id="n49-11"><use href="#RR" x="604"/></g><g id="n49-12"><use href="#RR" x="656"/></g></g>
<g id="row50" transform="translate(0,2610)"><g id="n50-1"><use href="#RL" x="84"/></g><g id="n50-2"><use href="#RL" x="136"/></g><g id="n50-3"><use href="#RL" x="188"/></g><g id="n50-4"><use href="#RL" x="240"/></g><g id="n50-5"><use href="#RL" x="292"/></g><g id="n50-6"><use href="#RL" x="344"/></g><g id="n50-7"><use href="#RL" x="396"/></g><g id="n50-8"><use href="#RL" x="448"/></g><g id="n50-9"><use href="#RL" x="500"/></g><g id="n50-10"><use href="#RL" x="552"/></g><g id="n50-11"><use href="#RL" x="604"/></g><g id="n50-12"><use href="#RL" x="656"/></g></g>
<g id="row51" transform="translate(0,2662)"><g id="n51-1"><use href="#RR" x="84"/></g><g id="n51-2"><use href="#RR" x="136"/></g><g id="n51-3"><use href="#RR" x="188"/></g><g id="n51-4"><use href="#RR" x="240"/></g><g id="n51-5"><use href="#RR" x="292"/></g><g id="n51-6"><use href="#RR" x="344"/></g><g id="n51-7"><use href="#RR" x="396"/></g><g id="n51-8"><use href="#RR" x="448"/></g><g id="n51-9"><use href="#RR" x="500"/></g><g id="n51-10"><use href="#RR" x="552"/></g><g id="n51-11"><use href="#RR" x="604"/></g><g id="n51-12"><use href="#RR" x="656"/></g></g>
<g id="row52" transform="translate(0,2714)"><g id="n52-1"><use href="#RL" x="84"/></g><g id="n52-2"><use href="#RL" x="136"/></g><g id="n52-3"><use href="#RL" x="188"/></g><g id="n52-4"><use href="#RL" x="240"/></g><g id="n52-5"><use href="#RL" x="292"/></g><g id="n52-6"><use href="#RL" x="344"/></g><g id="n52-7"><use href="#RL" x="396"/></g><g id="n52-8"><use href="#RL" x="448"/></g><g id="n52-9"><use href="#RL" x="500"/></g><g id="n52-10"><use href="#RL" x="552"/></g><g id="n52-11"><use href="#RL" x="604"/></g><g id="n52-12"><use href="#RL" x="656"/></g></g>
<g id="row53" transform="translate(0,2766)"><g id="n53-1"><use href="#RR" x="84"/></g><g id="n53-2"><use href="#RR" x="136"/></g><g id="n53-3"><use href="#RR" x="188"/></g><g id="n53-4"><use href="#RR" x="240"/></g><g id="n53-5"><use href="#RR" x="292"/></g><g id="n53-6"><use href="#RR" x="344"/></g><g id="n53-7"><use href="#RR" x="396"/></g><g id="n53-8"><use href="#RR" x="448"/></g><g id="n53-9"><use href="#RR" x="500"/></g><g id="n53-10"><use href="#RR" x="552"/></g><g id="n53-11"><use href="#RR" x="604"/></g><g id="n53-12"><use href="#RR" x="656"/></g></g>
<g id="row54" transform="translate(0,2818)"><g id="n54-1"><use href="#RL" x="84"/></g><g id="n54-2"><use href="#RL" x="136"/></g><g id="n54-3"><use href="#RL" x="188"/></g><g id="n54-4"><use href="#RL" x="240"/></g><g id="n54-5"><use href="#RL" x="292"/></g><g id="n54-6"><use href="#RL" x="344"/></g><g id="n54-7"><use href="#RL" x="396"/></g><g id="n54-8"><use href="#RL" x="448"/></g><g id="n54-9"><use href="#RL" x="500"/></g><g id="n54-10"><use href="#RL" x="552"/></g><g id="n54-11"><use href="#RL" x="604"/></g><g id="n54-12"><use href="#RL" x="656"/></g></g>
<g id="row55" transform="translate(0,2870)"><g id="n55-1"><use href="#RR" x="84"/></g><g id="n55-2"><use href="#RR" x="136"/></g><g id="n55-3"><use href="#RR" x="188"/></g><g id="n55-4"><use href="#RR" x="240"/></g><g id="n55-5"><use href="#RR" x="292"/></g><g id="n55-6"><use href="#RR" x="344"/></g><g id="n55-7"><use href="#RR" x="396"/></g><g id="n55-8"><use href="#RR" x="448"/></g><g id="n55-9"><use href="#RR" x="500"/></g><g id="n55-10"><use href="#RR" x="552"/></g><g id="n55-11"><use href="#RR" x="604"/></g><g id="n55-12"><use href="#RR" x="656"/></g></g>
<g id="row56" transform="translate(0,2922)"><g id="n56-1"><use href="#RL" x="84"/></g><g id="n56-2"><use href="#RL" x="136"/></g><g id="n56-3"><use href="#RL" x="188"/></g><g id="n56-4"><use href="#RL" x="240"/></g><g id="n56-5"><use href="#RL" x="292"/></g><g id="n56-6"><use href="#RL" x="344"/></g><g id="n56-7"><use href="#RL" x="396"/></g><g id="n56-8"><use href="#RL" x="448"/></g><g id="n56-9"><use href="#RL" x="500"/></g><g id="n56-10"><use href="#RL" x="552"/></g><g id="n56-11"><use href="#RL" x="604"/></g><g id="n56-12"><use href="#RL" x="656"/></g></g>
<g id="row57" transform="translate(0,2974)"><g id="n57-1"><use href="#RR" x="84"/></g><g id="n57-2"><use href="#RR" x="136"/></g><g id="n57-3"><use href="#RR" x="188"/></g><g id="n57-4"><use href="#RR" x="240"/></g><g id="n57-5"><use href="#RR" x="292"/></g><g id="n57-6"><use href="#RR" x="344"/></g><g id="n57-7"><use href="#RR" x="396"/></g><g id="n57-8"><use href="#RR" x="448"/></g><g id="n57-9"><use href="#RR" x="500"/></g><g id="n57-10"><use href="#RR" x="552"/></g><g id="n57-11"><use href="#RR" x="604"/></g><g id="n57-12"><use href="#RR" x="656"/></g></g>
<g id="row58" transform="translate(0,3026)"><g id="n58-1"><use href="#RL" x="84"/></g><g id="n58-2"><use href="#RL" x="136"/></g><g id="n58-3"><use href="#RL" x="188"/></g><g id="n58-4"><use href="#RL" x="240"/></g><g id="n58-5"><use href="#RL" x="292"/></g><g id="n58-6"><use href="#RL" x="344"/></g><g id="n58-7"><use href="#RL" x="396"/></g><g id="n58-8"><use href="#RL" x="448"/></g><g id="n58-9"><use href="#RL" x="500"/></g><g id="n58-10"><use href="#RL" x="552"/></g><g id="n58-11"><use href="#RL" x="604"/></g><g id="n58-12"><use href="#RL" x="656"/></g></g>
<g id="row59" transform="translate(0,3078)"><g id="n59-1"><use href="#RR" x="84"/></g><g id="n59-2"><use href="#RR" x="136"/></g><g id="n59-3"><use href="#RR" x="188"/></g><g id="n59-4"><use href="#RR" x="240"/></g><g id="n59-5"><use href="#RR" x="292"/></g><g id="n59-6"><use href="#RR" x="344"/></g><g id="n59-7"><use href="#RR" x="396"/></g><g id="n59-8"><use href="#RR" x="448"/></g><g id="n59-9"><use href="#RR" x="500"/></g><g id="n59-10"><use href="#RR" x="552"/></g><g id="n59-11"><use href="#RR" x="604"/></g><g id="n59-12"><use href="#RR" x="656"/></g></g>
<g id="row60" transform="translate(0,3130)"><g id="n60-1"><use href="#RL" x="84"/></g><g id="n60-2"><use href="#RL" x="136"/></g><g id="n60-3"><use href="#RL" x="188"/></g><g id="n60-4"><use href="#RL" x="240"/></g><g id="n60-5"><use href="#RL" x="292"/></g><g id="n60-6"><use href="#RL" x="344"/></g><g id="n60-7"><use href="#RL" x="396"/></g><g id="n60-8"><use href="#RL" x="448"/></g><g id="n60-9"><use href="#RL" x="500"/></g><g id="n60-10"><use href="#RL" x="552"/></g><g id="n60-11"><use href="#RL" x="604"/></g><g id="n60-12"><use href="#RL" x="656"/></g></g>
<g id="row61" transform="translate(0,3182)"><g id="n61-1"><use href="#RR" x="84"/></g><g id="n61-2"><use href="#RR" x="136"/></g><g id="n61-3"><use href="#RR" x="188"/></g><g id="n61-4"><use href="#RR" x="240"/></g><g id="n61-5"><use href="#RR" x="292"/></g><g id="n61-6"><use href="#RR" x="344"/></g><g id="n61-7"><use href="#RR" x="396"/></g><g id="n61-8"><use href="#RR" x="448"/></g><g id="n61-9"><use href="#RR" x="500"/></g><g id="n61-10"><use href="#RR" x="552"/></g><g id="n61-11"><use href="#RR" x="604"/></g><g id="n61-12"><use href="#RR" x="656"/></g></g>
</g>
<text class="wm" x="370" y="1652.5">BRACELETBOOK.COM</text>
</svg>
